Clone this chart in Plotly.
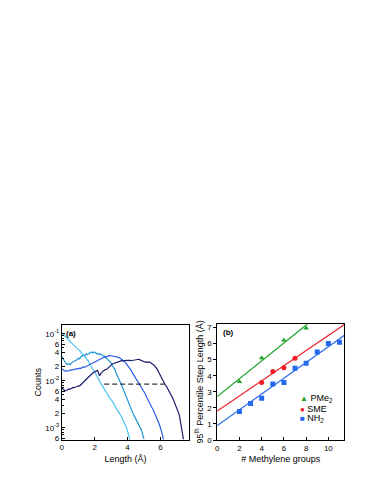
import numpy as np
import plotly.graph_objects as go

# ---- panel (a): step-length distributions (log counts) ----
C1_X = [0.00, 0.08, 0.16, 0.25, 0.32, 0.40, 0.48, 0.57, 0.65, 0.72, 0.80, 0.88, 0.97, 1.05,
        1.13, 1.21, 1.30, 1.37, 1.45, 1.53, 1.60, 1.70, 1.78, 1.86, 1.95, 2.02, 2.10, 2.18,
        2.26, 2.34, 2.42, 2.50, 2.59, 2.68, 2.76, 2.85, 2.93, 3.01, 3.10, 3.19, 3.27, 3.35,
        3.43, 3.52, 3.60, 3.68, 3.76, 3.84, 3.90, 3.96, 4.02, 4.07, 4.11, 4.15]
C1_Y = [0.105, 0.098, 0.094, 0.086, 0.079, 0.074, 0.069, 0.066, 0.060, 0.058, 0.054, 0.051,
        0.047, 0.045, 0.041, 0.039, 0.036, 0.034, 0.031, 0.028, 0.027, 0.023, 0.021, 0.019,
        0.017, 0.0150, 0.0132, 0.0120, 0.0104, 0.0092, 0.0083, 0.0072, 0.0065, 0.0057,
        0.0050, 0.0047, 0.0042, 0.0039, 0.0035, 0.0032, 0.0027, 0.0024, 0.0023, 0.0020,
        0.0018, 0.0016, 0.00138, 0.00125, 0.00108, 0.00092, 0.00082, 0.00070, 0.00062, 0.00055]

C2_X = [0.00, 0.06, 0.12, 0.20, 0.28, 0.36, 0.44, 0.52, 0.60, 0.68, 0.76, 0.84, 0.92, 1.00,
        1.08, 1.16, 1.24, 1.32, 1.40, 1.48, 1.56, 1.64, 1.72, 1.80, 1.88, 1.96, 2.04, 2.12,
        2.20, 2.28, 2.36, 2.44, 2.52, 2.60, 2.68, 2.76, 2.84, 2.92, 3.00, 3.08, 3.16, 3.24,
        3.32, 3.40, 3.48, 3.56, 3.64, 3.72, 3.80, 3.88, 3.96, 4.04, 4.12, 4.20, 4.28, 4.36,
        4.44, 4.52, 4.60, 4.68, 4.76, 4.84, 4.90, 4.95, 5.00]
C2_Y = [0.033, 0.030, 0.027, 0.025, 0.023, 0.022, 0.023, 0.022, 0.024, 0.025, 0.025, 0.027,
        0.028, 0.030, 0.029, 0.032, 0.033, 0.035, 0.034, 0.037, 0.036, 0.038, 0.040, 0.041,
        0.039, 0.041, 0.040, 0.037, 0.038, 0.036, 0.037, 0.035, 0.034, 0.033, 0.031, 0.029,
        0.027, 0.025, 0.024, 0.021, 0.019, 0.017, 0.014, 0.0125, 0.0108, 0.0093, 0.0080,
        0.0068, 0.0058, 0.0050, 0.0041, 0.0036, 0.0030, 0.0025, 0.0023, 0.0019, 0.0017,
        0.0015, 0.00134, 0.00117, 0.00102, 0.00090, 0.00075, 0.00066, 0.00057]

C3_X = [0.00, 0.06, 0.12, 0.20, 0.28, 0.36, 0.44, 0.52, 0.60, 0.68, 0.76, 0.84, 0.92, 1.00,
        1.08, 1.16, 1.24, 1.32, 1.40, 1.48, 1.56, 1.64, 1.72, 1.80, 1.88, 1.96, 2.04, 2.12,
        2.20, 2.28, 2.36, 2.44, 2.52, 2.60, 2.68, 2.76, 2.84, 2.92, 3.00, 3.08, 3.16, 3.24,
        3.32, 3.40, 3.48, 3.56, 3.64, 3.72, 3.80, 3.88, 3.96, 4.04, 4.12, 4.20, 4.28, 4.36,
        4.44, 4.52, 4.60, 4.68, 4.76, 4.84, 4.92, 5.00, 5.08, 5.16, 5.24, 5.32, 5.40, 5.48,
        5.56, 5.64, 5.72, 5.80, 5.88, 5.96, 6.04, 6.10, 6.15, 6.19]
C3_Y = [0.0180, 0.0172, 0.0162, 0.0158, 0.0165, 0.0160, 0.0163, 0.0170, 0.0168, 0.0172,
        0.0170, 0.0176, 0.0180, 0.0178, 0.0185, 0.0183, 0.0190, 0.0196, 0.0194, 0.0202,
        0.0208, 0.0215, 0.0222, 0.0230, 0.0238, 0.0245, 0.0252, 0.0262, 0.0270, 0.0281,
        0.0290, 0.0300, 0.0310, 0.0318, 0.0326, 0.0333, 0.0338, 0.0342, 0.0340, 0.0336,
        0.0338, 0.0332, 0.0325, 0.0318, 0.0310, 0.0298, 0.0288, 0.0275, 0.0260, 0.0240,
        0.0222, 0.0205, 0.0185, 0.0170, 0.0150, 0.0135, 0.0122, 0.0112, 0.0100, 0.0091,
        0.0082, 0.0073, 0.0066, 0.0060, 0.0052, 0.0045, 0.0039, 0.0034, 0.0030, 0.0027,
        0.0024, 0.0021, 0.0018, 0.00152, 0.00130, 0.00110, 0.00092, 0.00076, 0.00064, 0.00055]

C4_X = [0.00, 0.06, 0.12, 0.20, 0.28, 0.36, 0.44, 0.52, 0.60, 0.68, 0.76, 0.84, 0.92, 1.00,
        1.08, 1.16, 1.24, 1.32, 1.40, 1.48, 1.56, 1.64, 1.72, 1.80, 1.88, 1.96, 2.04, 2.12,
        2.18, 2.24, 2.30, 2.36, 2.44, 2.52, 2.60, 2.68, 2.76, 2.84, 2.92, 3.00, 3.08, 3.16,
        3.24, 3.32, 3.40, 3.48, 3.56, 3.64, 3.72, 3.80, 3.88, 3.96, 4.04, 4.12, 4.20, 4.28,
        4.36, 4.44, 4.52, 4.60, 4.68, 4.76, 4.84, 4.92, 5.00, 5.08, 5.16, 5.24, 5.32, 5.40,
        5.48, 5.56, 5.64, 5.72, 5.80, 5.88, 5.96, 6.04, 6.12, 6.20, 6.28, 6.36, 6.44, 6.52,
        6.60, 6.68, 6.76, 6.84, 6.92, 7.00, 7.08, 7.14, 7.20, 7.26, 7.32, 7.36, 7.40]
C4_Y = [0.0070, 0.0066, 0.0063, 0.0061, 0.0062, 0.0064, 0.0067, 0.0066, 0.0070, 0.0072,
        0.0071, 0.0073, 0.0075, 0.0078, 0.0077, 0.0082, 0.0090, 0.0096, 0.0102, 0.0110,
        0.0116, 0.0122, 0.0130, 0.0138, 0.0146, 0.0152, 0.0158, 0.0164, 0.0166, 0.0142,
        0.0128, 0.0140, 0.0155, 0.0162, 0.0168, 0.0172, 0.0178, 0.0190, 0.0205, 0.0215,
        0.0226, 0.0232, 0.0238, 0.0244, 0.0250, 0.0258, 0.0264, 0.0268, 0.0265, 0.0270,
        0.0266, 0.0272, 0.0268, 0.0274, 0.0266, 0.0270, 0.0276, 0.0272, 0.0282, 0.0290,
        0.0286, 0.0278, 0.0270, 0.0262, 0.0255, 0.0248, 0.0252, 0.0245, 0.0250, 0.0242,
        0.0235, 0.0222, 0.0208, 0.0193, 0.0176, 0.0155, 0.0135, 0.0118, 0.0102, 0.0092,
        0.0083, 0.0076, 0.0066, 0.0058, 0.0052, 0.0047, 0.0042, 0.0036, 0.0031, 0.0026,
        0.0022, 0.0019, 0.00145, 0.00115, 0.00088, 0.00070, 0.00056]

CURVE_COLOURS = ["#4DC3F4", "#1B97D6", "#2B5DE8", "#1C1E6C"]

CUTOFF_Y = 0.0085
CUTOFF_X = [2.58, 6.26]

A_YTICKS = [0.1, 0.06, 0.04, 0.02, 0.01, 0.006, 0.004, 0.002, 0.001, 0.0006]
A_YTEXT = ["10<sup>-1</sup>", "6", "4", "2", "10<sup>-2</sup>", "6", "4", "2",
           "10<sup>-3</sup>", "6"]
A_MINOR = [m * 10.0 ** e for e in (-4, -3, -2) for m in range(1, 10)] + [0.1]

# ---- panel (b): 95th percentile step length vs chain length ----
NH2_X = [2, 3, 4, 5, 6, 7, 8, 9, 10, 11]
NH2_Y = [1.78, 2.28, 2.60, 3.48, 3.58, 4.47, 4.77, 5.48, 6.00, 6.08]
SME_X = [4, 5, 6, 7]
SME_Y = [3.58, 4.27, 4.49, 5.08]
PME_X = [2, 4, 6, 8]
PME_Y = [3.63, 5.10, 6.20, 6.95]

# linear fits (intercept, slope, x end) as drawn
FITS = {
    "PMe2": (2.70, 0.555, 8.1),
    "SME": (1.80, 0.47, 11.45),
    "NH2": (0.90, 0.49, 11.45),
}

GREEN, RED, BLUE = "#1FA22A", "#EE1C24", "#2468EE"

FONT = "Liberation Sans, Arial, sans-serif"

fig = go.Figure()

for xs, ys, col in zip([C1_X, C2_X, C3_X, C4_X], [C1_Y, C2_Y, C3_Y, C4_Y], CURVE_COLOURS):
    fig.add_trace(go.Scatter(x=xs, y=ys, mode="lines", line=dict(color=col, width=1.2),
                             xaxis="x", yaxis="y", showlegend=False))

fig.add_trace(go.Scatter(x=CUTOFF_X, y=[CUTOFF_Y, CUTOFF_Y], mode="lines",
                         line=dict(color="#333333", width=1.3, dash="5px,3px"),
                         xaxis="x", yaxis="y", showlegend=False))

# panel b: fits first, then points
for key, col in [("PMe2", GREEN), ("SME", RED), ("NH2", BLUE)]:
    b0, b1, xend = FITS[key]
    fx = np.array([0.0, xend])
    fig.add_trace(go.Scatter(x=fx, y=b0 + b1 * fx, mode="lines",
                             line=dict(color=col, width=1.2),
                             xaxis="x2", yaxis="y2", showlegend=False))

for xs, ys, col, sym in [(PME_X, PME_Y, GREEN, "triangle-up"),
                         (SME_X, SME_Y, RED, "circle"),
                         (NH2_X, NH2_Y, BLUE, "square")]:
    fig.add_trace(go.Scatter(x=xs, y=ys, mode="markers",
                             marker=dict(color=col, symbol=sym, size=5),
                             xaxis="x2", yaxis="y2", showlegend=False))

axis_common = dict(showline=True, linecolor="black", linewidth=1, mirror=True,
                   showgrid=False, zeroline=False, ticklen=3, tickcolor="black",
                   tickfont=dict(size=8, color="black"))

fig.update_layout(
    width=383, height=495,
    margin=dict(l=0, r=0, t=0, b=0),
    paper_bgcolor="white", plot_bgcolor="white",
    font=dict(family=FONT, size=8, color="black"),
    xaxis=dict(domain=[0.1358, 0.4700], anchor="y", range=[0, 7.74],
               tickvals=[0, 2, 4, 6], ticks="inside",
               title=dict(text="Length (Å)", font=dict(size=9), standoff=4),
               **axis_common),
    yaxis=dict(domain=[0.1192, 0.3535], anchor="x", type="log", range=[-3.253, -0.81],
               tickvals=A_YTICKS, ticktext=A_YTEXT, ticks="inside",
               minor=dict(tickvals=A_MINOR, ticks="inside", ticklen=2, tickcolor="black"),
               title=dict(text="Counts", font=dict(size=9), standoff=2),
               **axis_common),
    xaxis2=dict(domain=[0.5439, 0.8773], anchor="y2", range=[0, 11.43],
                tickvals=[0, 2, 4, 6, 8, 10], ticks="inside",
                title=dict(text="# Methylene groups", font=dict(size=9), standoff=4),
                **axis_common),
    yaxis2=dict(domain=[0.1182, 0.3556], anchor="x2", range=[0, 7.23],
                tickvals=[0, 1, 2, 3, 4, 5, 6, 7], ticks="outside",
                title=dict(text="95<sup>th</sup> Percentile Step Length (Å)",
                           font=dict(size=9), standoff=2),
                **axis_common),
)

fig.add_annotation(x=0.02, y=0.985, xref="x domain", yref="y domain", text="<b>(a)</b>",
                   showarrow=False, xanchor="left", yanchor="top", font=dict(size=8))
fig.add_annotation(x=0.03, y=0.985, xref="x2 domain", yref="y2 domain", text="<b>(b)</b>",
                   showarrow=False, xanchor="left", yanchor="top", font=dict(size=8))

legend_rows = [
    (GREEN, "▲", "PMe<sub>2</sub>", 0.204),
    (RED, "●", "SME", 0.182),
    (BLUE, "■", "NH<sub>2</sub>", 0.162),
]
for col, sym, label, yp in legend_rows:
    fig.add_annotation(x=0.755, y=yp, xref="paper", yref="paper", showarrow=False,
                       xanchor="left", yanchor="middle",
                       text=f"<span style='color:{col};font-size:8px'>{sym}</span> {label}",
                       font=dict(size=9))

fig.write_html("out.html")
